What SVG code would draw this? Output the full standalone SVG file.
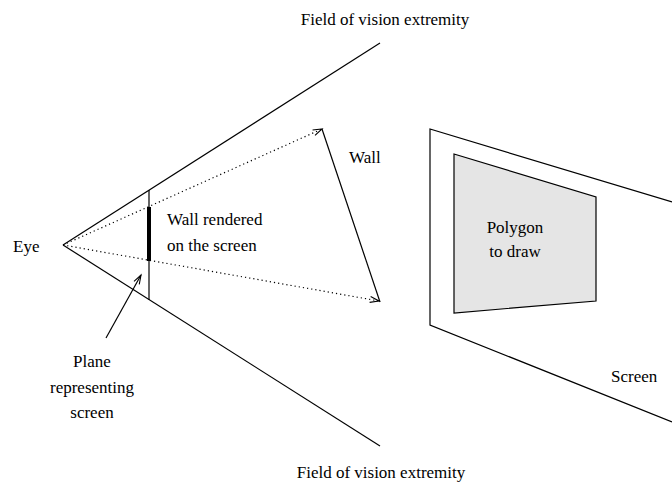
<svg xmlns="http://www.w3.org/2000/svg" width="672" height="485" viewBox="0 0 672 485">
<style>
text{font-family:"Liberation Serif","Times New Roman",serif;font-size:17px;fill:#000}
.ln{stroke:#000;stroke-width:1.2;fill:none}
.dot{stroke:#000;stroke-width:1.2;fill:none;stroke-dasharray:1.2 3}
</style>
<defs>
<marker id="open" markerWidth="12" markerHeight="10" refX="10" refY="4" orient="auto" markerUnits="userSpaceOnUse">
<path d="M1,1 L10,4 L1,7" fill="none" stroke="#000" stroke-width="1.1"/>
</marker>
</defs>
<rect width="672" height="485" fill="#fff"/>
<g id="connectors">
<line class="ln" x1="63" y1="245" x2="380" y2="43"/>
<line class="ln" x1="63" y1="245" x2="380" y2="446"/>
<line class="dot" x1="63" y1="245" x2="322" y2="129" marker-end="url(#open)"/>
<line class="dot" x1="63" y1="245" x2="379" y2="301" marker-end="url(#open)"/>
<line class="ln" x1="106" y1="338" x2="141" y2="275" marker-end="url(#open)"/>
</g>
<g id="plane">
<line class="ln" x1="149" y1="190" x2="149" y2="300"/>
<line x1="149" y1="207" x2="149" y2="261" stroke="#000" stroke-width="4"/>
</g>
<g id="wall">
<line class="ln" x1="322" y1="129" x2="380" y2="302"/>
<text x="349" y="163">Wall</text>
</g>
<g id="screen">
<polyline class="ln" points="672,202 430,129 430,325 672,422"/>
<text x="611" y="382">Screen</text>
</g>
<g id="polygon">
<polygon points="454,154 596,197 596,301 454,313" fill="#e5e5e5" stroke="#000" stroke-width="1.2"/>
<text x="515" y="233" text-anchor="middle">Polygon</text>
<text x="515" y="257" text-anchor="middle">to draw</text>
</g>
<g id="labels">
<text x="385" y="25" text-anchor="middle">Field of vision extremity</text>
<text x="381" y="478" text-anchor="middle">Field of vision extremity</text>
<text x="13" y="252">Eye</text>
<text x="167" y="225">Wall rendered</text>
<text x="167" y="251">on the screen</text>
<text x="92" y="367" text-anchor="middle">Plane</text>
<text x="92" y="393" text-anchor="middle">representing</text>
<text x="92" y="418" text-anchor="middle">screen</text>
</g>
</svg>
